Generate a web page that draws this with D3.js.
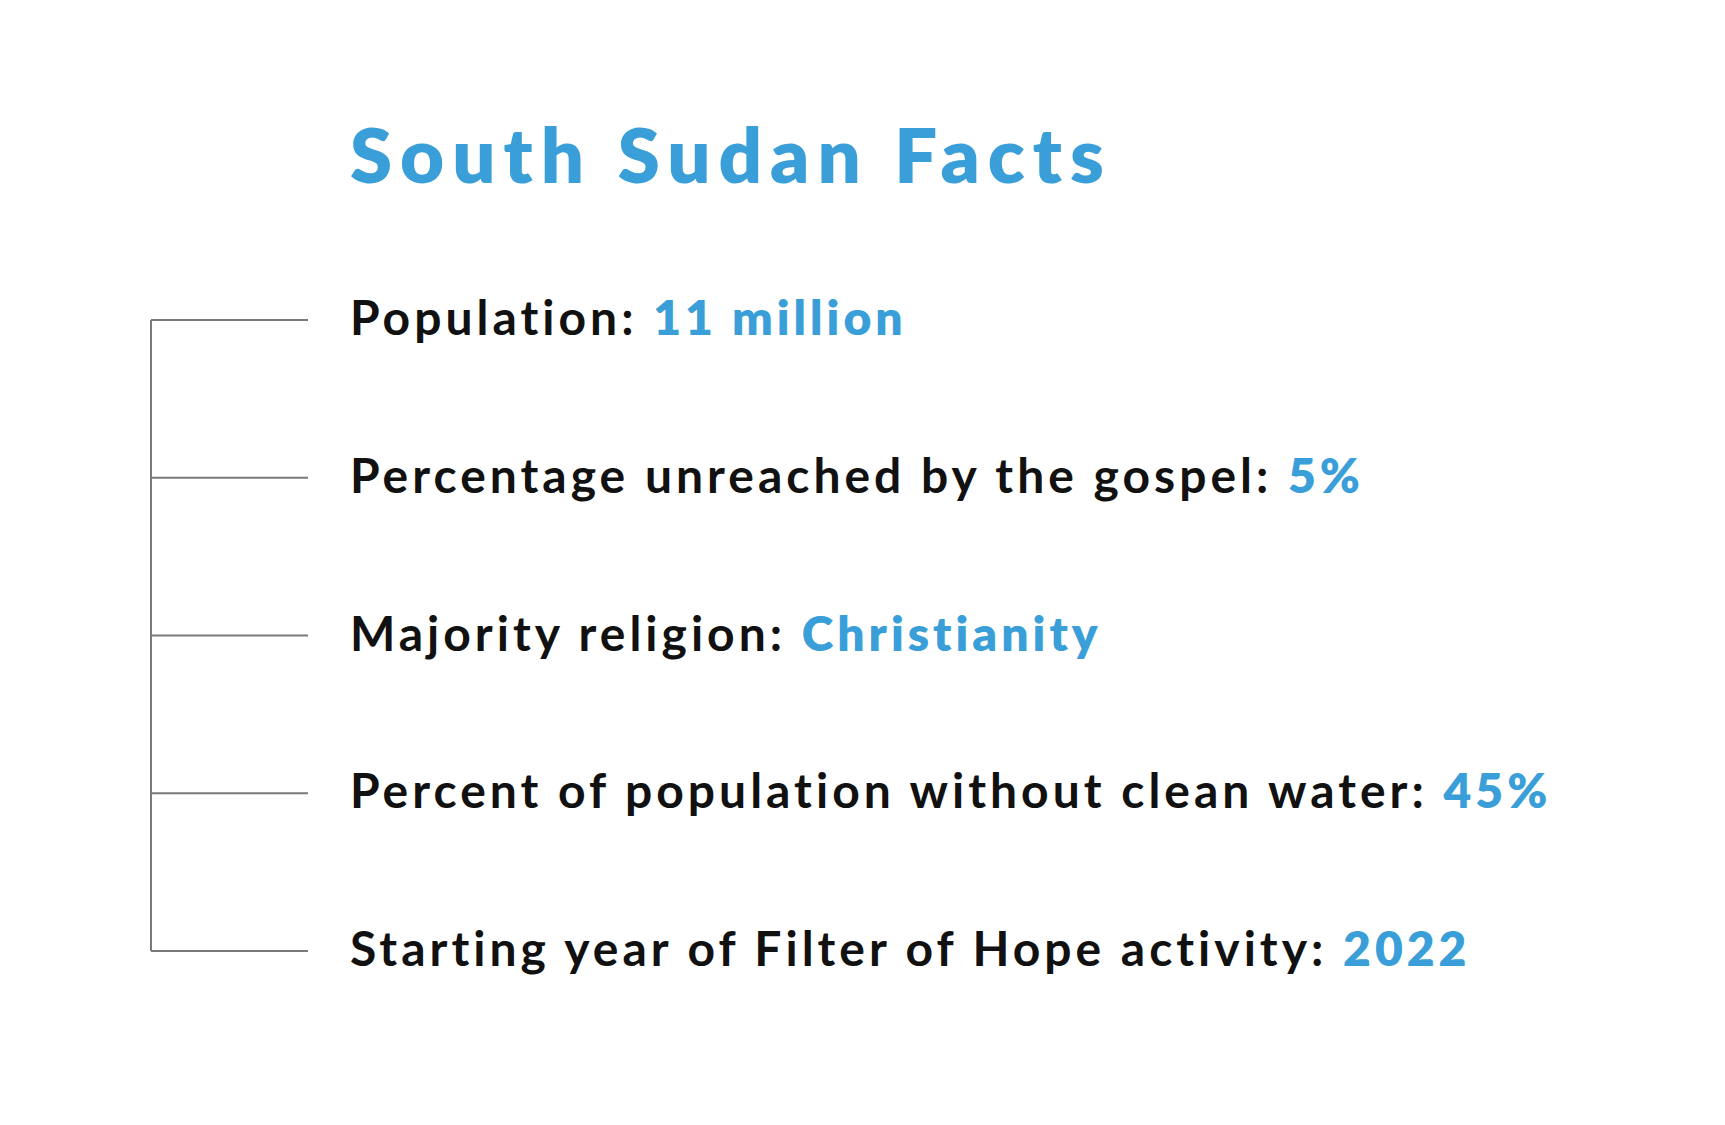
<!DOCTYPE html>
<html>
<head>
<meta charset="utf-8">
<script src="https://cdn.jsdelivr.net/npm/d3@7"></script>
<style>
  body { margin: 0; background: #fff; }
  svg { display: block; }
</style>
</head>
<body>
<div id="chart"></div>
<script>
// Facts shown in the list
var title = "South Sudan Facts";
var labels = ["Population:", "Percentage unreached by the gospel:", "Majority religion:",
              "Percent of population without clean water:", "Starting year of Filter of Hope activity:"];
var values = ["11 million", "5%", "Christianity", "45%", "2022"];

var width = 1725,
    height = 1125;

var blue = "#3a9fd9",
    ink = "#111111",
    grey = "#7a7a7a";

var svg = d3.select("#chart").append("svg")
    .attr("width", width)
    .attr("height", height);

// rows spread evenly down the bracket
var y = d3.scalePoint()
    .domain(d3.range(labels.length))
    .range([320, 951]);

var bracketX = 151,
    tickEnd = 308,
    textX = 350;

// title
svg.append("text")
  .attr("x", textX)
  .attr("y", 183)
  .attr("fill", blue)
  .style("font-family", "Lato, sans-serif")
  .style("font-weight", 800)
  .style("font-size", "76px")
  .style("letter-spacing", "8px")
  .text(title);

// bracket: vertical line + one tick per row
svg.append("line")
  .attr("x1", bracketX).attr("x2", bracketX)
  .attr("y1", y(0)).attr("y2", y(labels.length - 1))
  .attr("stroke", grey)
  .attr("stroke-width", 2);

svg.append("g")
  .selectAll("line")
  .data(labels)
  .enter().append("line")
  .attr("x1", bracketX)
  .attr("x2", tickEnd)
  .attr("y1", function(d, i) { return y(i); })
  .attr("y2", function(d, i) { return y(i); })
  .attr("stroke", grey)
  .attr("stroke-width", 2);

// row text, label in dark, value in blue
var rows = svg.append("g")
  .selectAll("text")
  .data(labels)
  .enter().append("text")
  .attr("x", textX)
  .attr("y", function(d, i) { return y(i) + 15; })
  .style("font-family", "Lato, sans-serif")
  .style("font-size", "48px")
  .style("letter-spacing", "4px");

rows.append("tspan")
  .attr("fill", ink)
  .style("font-weight", 700)
  .text(function(d) { return d + " "; });

rows.append("tspan")
  .attr("fill", blue)
  .style("font-weight", 800)
  .text(function(d, i) { return values[i]; });
</script>
</body>
</html>
